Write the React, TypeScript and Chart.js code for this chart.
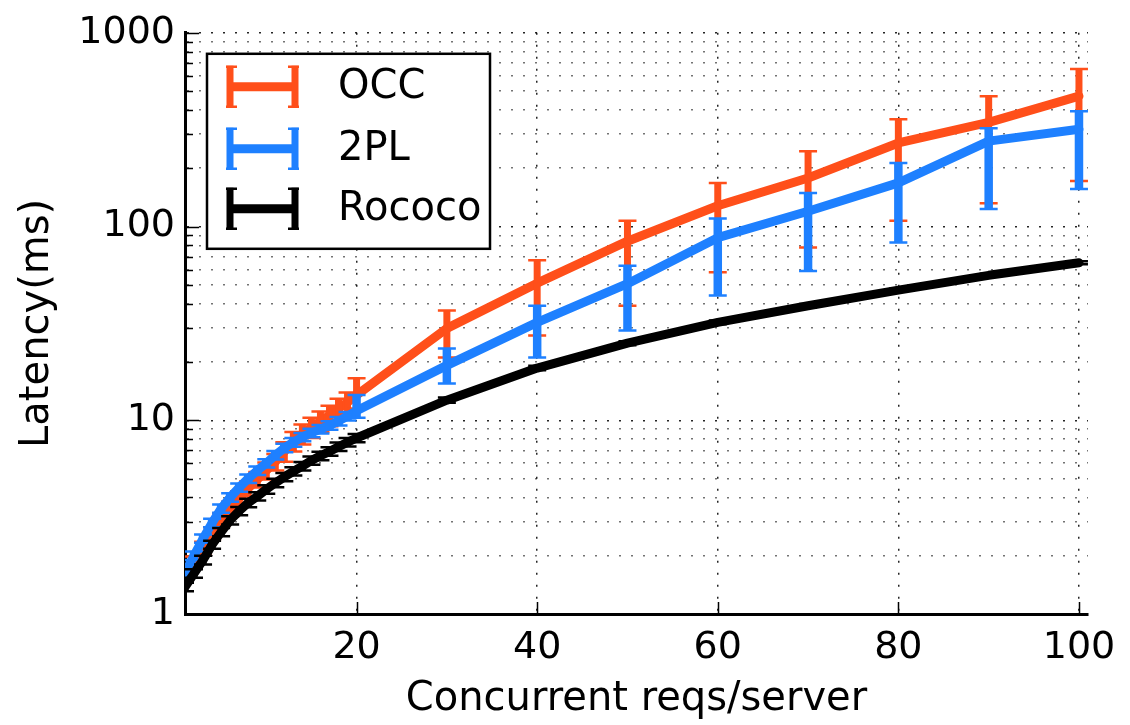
import { useEffect, useRef } from 'react';
import { Chart, registerables } from 'chart.js';

Chart.register(...registerables);

const FONT = "'DejaVu Sans', sans-serif";

// ---- data ----
const xValues = [1, 2, 3, 4, 5, 6, 7, 8, 9, 10, 11, 12, 13, 14, 15, 16, 17, 18, 19, 20, 30, 40, 50, 60, 70, 80, 90, 100];

const seriesNames = ['OCC', '2PL', 'Rococo'];
const seriesColors = ['#ff4f1a', '#1e80ff', '#000000'];

const occMean = [1.55, 1.85, 2.2, 2.6, 3.05, 3.5, 3.95, 4.45, 4.95, 5.5, 6.1, 6.9, 7.8, 8.5, 9.2, 9.9, 10.6, 11.5, 12.4, 13.5, 29.8, 51, 84, 128, 178, 270, 345, 471];
const occLow = [1.45, 1.72, 2.05, 2.42, 2.82, 3.2, 3.6, 4.05, 4.5, 4.95, 5.5, 6.1, 6.9, 7.5, 8.1, 8.7, 9.3, 10.1, 10.9, 11.5, 21.1, 27.4, 39, 58, 78, 107, 132, 172];
const occHigh = [1.65, 1.98, 2.36, 2.8, 3.3, 3.8, 4.3, 4.85, 5.4, 6.05, 6.7, 7.7, 8.7, 9.5, 10.3, 11.1, 11.9, 12.9, 13.9, 16.5, 36.9, 67, 107, 168, 245, 358, 470, 650];

const tplMean = [1.63, 2.0, 2.45, 2.95, 3.5, 4.0, 4.5, 5.0, 5.5, 6.0, 6.6, 7.2, 7.7, 8.2, 8.6, 9.0, 9.4, 9.9, 10.5, 11.2, 19.2, 32, 50.7, 87.6, 120, 168, 276, 318];
const tplLow = [1.55, 1.9, 2.33, 2.8, 3.33, 3.8, 4.28, 4.75, 5.22, 5.7, 6.27, 6.84, 7.3, 7.8, 8.17, 8.55, 8.93, 9.4, 9.97, 10.3, 15.5, 21.1, 29.1, 44, 59, 82.6, 123, 156];
const tplHigh = [1.71, 2.1, 2.57, 3.1, 3.67, 4.2, 4.72, 5.25, 5.78, 6.3, 6.93, 7.56, 8.1, 8.6, 9.03, 9.45, 9.87, 10.4, 11.03, 13.5, 23.5, 39, 62.8, 110, 149, 213, 322, 394];

const rococoMean = [1.38, 1.62, 1.9, 2.28, 2.65, 3.05, 3.4, 3.75, 4.05, 4.4, 4.75, 5.1, 5.45, 5.8, 6.2, 6.55, 6.9, 7.3, 7.7, 8.1, 12.7, 18.6, 25, 32, 39, 47, 56, 65];
const rococoLow = [1.31, 1.54, 1.8, 2.17, 2.52, 2.9, 3.23, 3.56, 3.85, 4.18, 4.51, 4.85, 5.18, 5.51, 5.89, 6.22, 6.56, 6.94, 7.32, 7.7, 12.3, 18.1, 24.4, 31.3, 38.2, 46, 55, 63.8];
const rococoHigh = [1.45, 1.7, 2.0, 2.39, 2.78, 3.2, 3.57, 3.94, 4.25, 4.62, 4.99, 5.35, 5.72, 6.09, 6.51, 6.88, 7.25, 7.67, 8.09, 8.5, 13.1, 19.1, 25.6, 32.7, 39.8, 48, 57, 66.2];

const xTickValues = [20, 40, 60, 80, 100];
const yMajorTicks = [1, 10, 100, 1000];
const yMinorTicks = [2, 3, 4, 5, 6, 7, 8, 9, 20, 30, 40, 50, 60, 70, 80, 90, 200, 300, 400, 500, 600, 700, 800, 900];

const means = [occMean, tplMean, rococoMean];
const lows = [occLow, tplLow, rococoLow];
const highs = [occHigh, tplHigh, rococoHigh];
const barWidths = [7, 8.5, 7];

const errorBarPlugin = {
  id: 'errorBars',
  afterDatasetDraw(chart: any, args: any) {
    const i = args.index;
    const { ctx, chartArea } = chart;
    const xs = chart.scales.x;
    const ys = chart.scales.y;
    ctx.save();
    ctx.beginPath();
    ctx.rect(chartArea.left, chartArea.top, chartArea.right - chartArea.left, chartArea.bottom - chartArea.top);
    ctx.clip();
    ctx.strokeStyle = seriesColors[i];
    for (let k = 0; k < xValues.length; k++) {
      const px = xs.getPixelForValue(xValues[k]);
      const y1 = ys.getPixelForValue(lows[i][k]);
      const y2 = ys.getPixelForValue(highs[i][k]);
      ctx.lineWidth = barWidths[i];
      ctx.lineCap = 'butt';
      ctx.beginPath();
      ctx.moveTo(px, y1);
      ctx.lineTo(px, y2);
      ctx.stroke();
      ctx.lineWidth = 2.5;
      ctx.beginPath();
      ctx.moveTo(px - 9, y1);
      ctx.lineTo(px + 9, y1);
      ctx.moveTo(px - 9, y2);
      ctx.lineTo(px + 9, y2);
      ctx.stroke();
    }
    ctx.restore();
  },
};

const axisTicksPlugin = {
  id: 'innerTicks',
  beforeDatasetsDraw(chart: any) {
    const { ctx, chartArea } = chart;
    const ys = chart.scales.y;
    const xs = chart.scales.x;
    ctx.save();
    ctx.strokeStyle = '#000';
    ctx.lineWidth = 1.5;
    ctx.beginPath();
    for (const v of yMajorTicks) {
      const py = Math.round(ys.getPixelForValue(v)) + 0.5;
      ctx.moveTo(chartArea.left, py);
      ctx.lineTo(chartArea.left + 14, py);
    }
    for (const v of yMinorTicks) {
      const py = Math.round(ys.getPixelForValue(v)) + 0.5;
      ctx.moveTo(chartArea.left, py);
      ctx.lineTo(chartArea.left + 8, py);
    }
    for (const v of xTickValues) {
      const px = Math.round(xs.getPixelForValue(v)) + 0.5;
      ctx.moveTo(px, chartArea.bottom);
      ctx.lineTo(px, chartArea.bottom - 12);
    }
    ctx.stroke();
    ctx.restore();
  },
};

const legendPlugin = {
  id: 'errLegend',
  afterDraw(chart: any) {
    const { ctx, chartArea } = chart;
    const bx = chartArea.left + 22;
    const by = chartArea.top + 21;
    const bw = 283;
    const bh = 195;
    ctx.save();
    ctx.fillStyle = '#ffffff';
    ctx.fillRect(bx, by, bw, bh);
    ctx.strokeStyle = '#000';
    ctx.lineWidth = 2.5;
    ctx.strokeRect(bx, by, bw, bh);
    const rowCenters = [by + 33, by + 95, by + 155];
    for (let i = 0; i < seriesNames.length; i++) {
      const cy = rowCenters[i];
      const x0 = bx + 20;
      const x1 = bx + 91;
      ctx.strokeStyle = seriesColors[i];
      ctx.lineCap = 'butt';
      ctx.lineWidth = 9;
      ctx.beginPath();
      ctx.moveTo(x0, cy);
      ctx.lineTo(x1, cy);
      ctx.stroke();
      ctx.lineWidth = 7;
      ctx.beginPath();
      ctx.moveTo(x0 + 3, cy - 21);
      ctx.lineTo(x0 + 3, cy + 21);
      ctx.moveTo(x1 - 3, cy - 21);
      ctx.lineTo(x1 - 3, cy + 21);
      ctx.stroke();
      ctx.lineWidth = 2.5;
      ctx.beginPath();
      ctx.moveTo(x0 - 1, cy - 20);
      ctx.lineTo(x0 + 10, cy - 20);
      ctx.moveTo(x0 - 1, cy + 20);
      ctx.lineTo(x0 + 10, cy + 20);
      ctx.moveTo(x1 - 10, cy - 20);
      ctx.lineTo(x1 + 1, cy - 20);
      ctx.moveTo(x1 - 10, cy + 20);
      ctx.lineTo(x1 + 1, cy + 20);
      ctx.stroke();
      ctx.fillStyle = '#000';
      ctx.font = `40px ${FONT}`;
      ctx.textBaseline = 'middle';
      ctx.textAlign = 'left';
      ctx.fillText(seriesNames[i], bx + 131, cy + 1);
    }
    ctx.restore();
  },
};

export default function App() {
  const canvasRef = useRef<HTMLCanvasElement | null>(null);

  useEffect(() => {
    const canvas = canvasRef.current;
    if (!canvas) return;
    const orders = [3, 2, 1];
    const chart = new Chart(canvas, {
      type: 'line',
      data: {
        datasets: seriesNames.map((name, i) => ({
          label: name,
          data: xValues.map((x, k) => ({ x, y: means[i][k] })),
          borderColor: seriesColors[i],
          backgroundColor: seriesColors[i],
          borderWidth: 9,
          pointRadius: 0,
          tension: 0,
          fill: false,
          borderJoinStyle: 'round' as const,
          borderCapStyle: 'round' as const,
          order: orders[i],
        })),
      },
      options: {
        responsive: false,
        animation: false,
        events: [],
        layout: { padding: { left: 0, right: 42, top: 31, bottom: 0 } },
        plugins: {
          legend: { display: false },
          tooltip: { enabled: false },
        },
        scales: {
          x: {
            type: 'linear',
            min: 1,
            max: 101,
            afterBuildTicks: (scale: any) => {
              scale.ticks = xTickValues.map((v) => ({ value: v }));
            },
            afterFit: (scale: any) => {
              scale.height = 111;
            },
            grid: {
              color: 'rgba(0,0,0,0.85)',
              lineWidth: 1.5,
              drawTicks: false,
            },
            border: { display: true, color: '#000', width: 3, dash: [2, 10] },
            ticks: {
              autoSkip: false,
              maxRotation: 0,
              padding: 11,
              color: '#000',
              font: { family: FONT, size: 38 },
              callback: (v: any) => String(v),
            },
            title: {
              display: true,
              text: 'Concurrent reqs/server',
              color: '#000',
              font: { family: FONT, size: 40 },
              padding: { top: 0, bottom: 1 },
            },
          },
          y: {
            type: 'logarithmic',
            min: 1,
            max: 1000,
            afterBuildTicks: (scale: any) => {
              scale.ticks = [...yMajorTicks, ...yMinorTicks]
                .sort((a, b) => a - b)
                .map((v) => ({ value: v, major: yMajorTicks.includes(v) }));
            },
            afterFit: (scale: any) => {
              scale.width = 185;
            },
            grid: {
              color: (c: any) => (yMajorTicks.includes(c.tick?.value) ? 'rgba(0,0,0,0.85)' : 'rgba(0,0,0,0.55)'),
              lineWidth: 1.5,
              drawTicks: false,
            },
            border: { display: true, color: '#000', width: 3, dash: [2, 10] },
            ticks: {
              autoSkip: false,
              padding: 10,
              color: '#000',
              font: { family: FONT, size: 38 },
              callback: (v: any) => (yMajorTicks.includes(Number(v)) ? String(v) : ''),
            },
            title: {
              display: true,
              text: 'Latency(ms)',
              color: '#000',
              font: { family: FONT, size: 40 },
              padding: { top: 14, bottom: 0 },
            },
          },
        },
      },
      plugins: [axisTicksPlugin, errorBarPlugin, legendPlugin],
    });
    return () => chart.destroy();
  }, []);

  return (
    <div style={{ position: 'absolute', left: 0, top: 0, width: 1130, height: 725, background: '#fff' }}>
      <canvas ref={canvasRef} width={1130} height={725} />
    </div>
  );
}
